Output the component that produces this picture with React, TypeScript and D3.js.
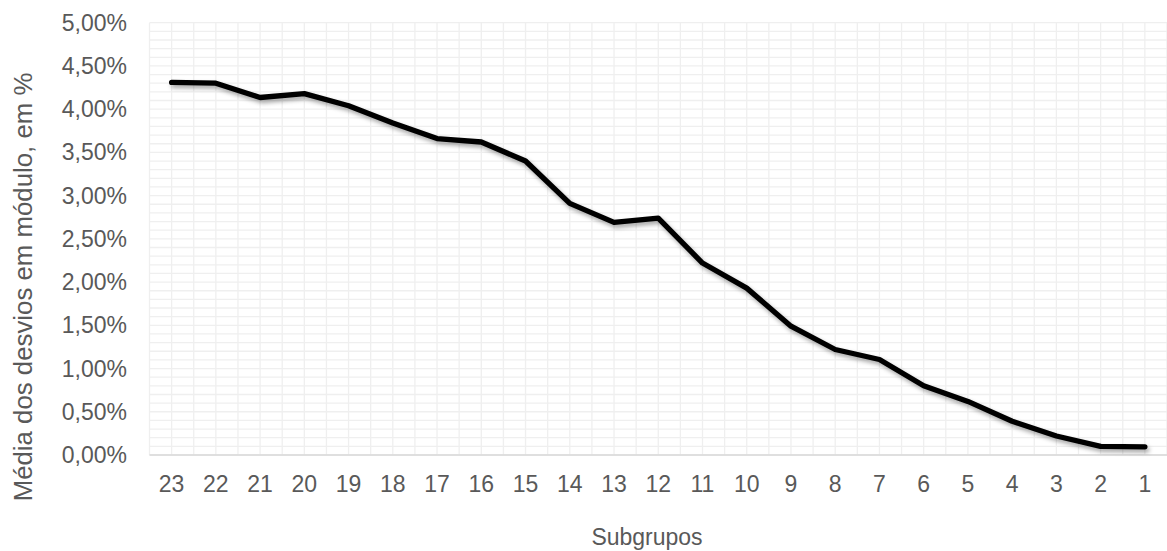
import React from "react";
import * as d3 from "d3";

const categories: string[] = ["23","22","21","20","19","18","17","16","15","14","13","12","11","10","9","8","7","6","5","4","3","2","1"];
const values: number[] = [4.31, 4.30, 4.135, 4.18, 4.04, 3.84, 3.66, 3.62, 3.40, 2.91, 2.69, 2.74, 2.22, 1.93, 1.49, 1.22, 1.105, 0.80, 0.62, 0.39, 0.22, 0.10, 0.095];
const yTicks: number[] = [0, 0.5, 1, 1.5, 2, 2.5, 3, 3.5, 4, 4.5, 5];
const yTitle = "Média dos desvios em módulo, em %";
const xTitle = "Subgrupos";

const W = 1167, H = 551;
const M = { left: 149.5, right: 0, top: 22.7, bottom: 96 };

export default function App() {
  const x = d3.scaleBand<string>().domain(categories).range([M.left, W - M.right]).padding(0);
  const y = d3.scaleLinear().domain([0, 5]).range([H - M.bottom, M.top]);
  const bw = x.bandwidth();
  const minorY = d3.range(0, 51).map((i) => i / 10);
  const vLines: number[] = [];
  categories.forEach((c) => {
    vLines.push(x(c)!);
    vLines.push(x(c)! + bw / 2);
  });
  vLines.push(W - M.right);
  const line = d3.line<number>()
    .x((_, i) => x(categories[i])! + bw / 2)
    .y((d) => y(d));
  const fmt = (v: number) => v.toFixed(2).replace(".", ",") + "%";
  const font = "'Liberation Sans', Arial, sans-serif";
  const textColor = "#595959";
  return (
    <svg width={W} height={H} style={{ position: "fixed", left: 0, top: 0, background: "#fff" }} fontFamily={font}>
      <defs>
        <filter id="shadow" x="-10%" y="-10%" width="120%" height="130%">
          <feDropShadow dx="2" dy="3" stdDeviation="2" floodColor="#000" floodOpacity="0.35" />
        </filter>
      </defs>
      <rect x={0} y={0} width={W} height={H} fill="#fff" />
      <g>
        {minorY.map((v) => (
          <line key={"h" + v} x1={M.left} x2={W - M.right} y1={y(v)} y2={y(v)} stroke="#efefef" strokeWidth={1.3} />
        ))}
        {vLines.map((vx, i) => (
          <line key={"v" + i} x1={vx} x2={vx} y1={y(5)} y2={y(0)} stroke="#efefef" strokeWidth={1.3} />
        ))}
        <line x1={M.left} x2={W - M.right} y1={y(0)} y2={y(0)} stroke="#d9d9d9" strokeWidth={1.3} />
      </g>
      <g>
        {yTicks.map((t) => (
          <text key={t} x={127} y={y(t)} dy="0.35em" textAnchor="end" fontSize={23} fill={textColor}>
            {fmt(t)}
          </text>
        ))}
        {categories.map((c) => (
          <text key={c} x={x(c)! + bw / 2} y={y(0) + 29} dy="0.35em" textAnchor="middle" fontSize={23} fill={textColor}>
            {c}
          </text>
        ))}
      </g>
      <path d={line(values)!} fill="none" stroke="#000" strokeWidth={5.3} strokeLinejoin="round" strokeLinecap="round" filter="url(#shadow)" />
      <text x={647} y={537} dy="0.35em" textAnchor="middle" fontSize={23} fill={textColor}>
        {xTitle}
      </text>
      <text transform={`translate(32,287) rotate(-90)`} textAnchor="middle" fontSize={25.8} fill={textColor}>
        {yTitle}
      </text>
    </svg>
  );
}
